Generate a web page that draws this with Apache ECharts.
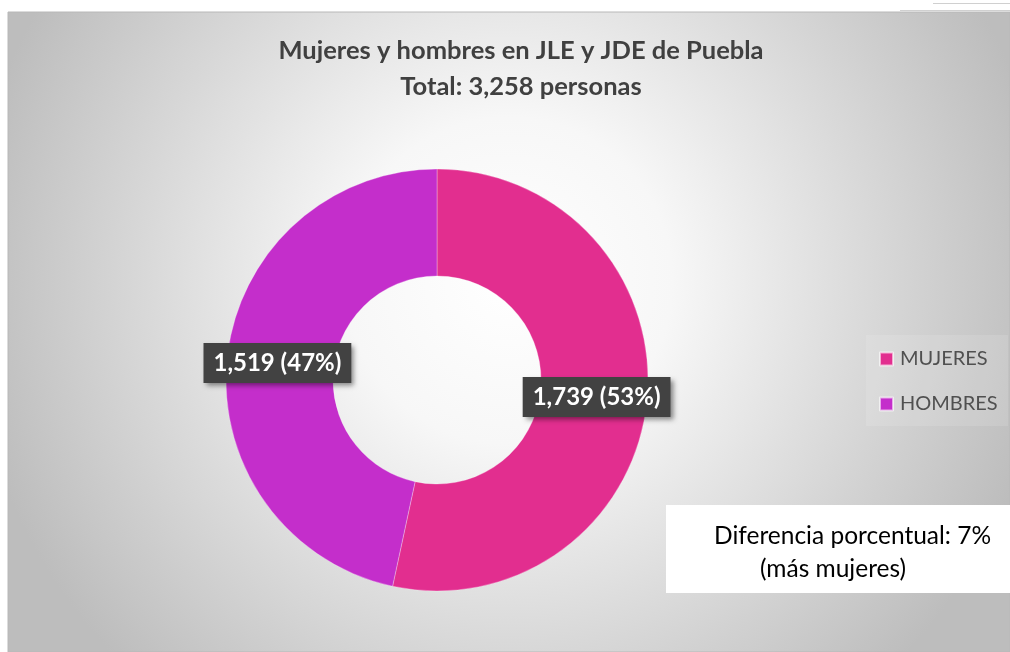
<!DOCTYPE html>
<html>
<head>
<meta charset="utf-8">
<script src="https://cdn.jsdelivr.net/npm/echarts@6/dist/echarts.min.js"></script>
<style>
html,body{margin:0;padding:0;background:#fff;}
#main{width:1010px;height:652px;}
</style>
</head>
<body>
<div id="main"></div>
<script>
var categories = ['MUJERES', 'HOMBRES'];
var values = [1739, 1519];
var colors = ['#E22E8F', '#C42ECB'];
var titleText = 'Mujeres y hombres en JLE y JDE de Puebla';
var subtitleText = 'Total: 3,258 personas';
var noteLines = ['Diferencia porcentual: 7%', '(más mujeres)'];

var FONT = 'Lato, "Open Sans", sans-serif';
var chart = echarts.init(document.getElementById('main'));

var data = categories.map(function (c, i) {
  return { name: c, value: values[i], itemStyle: { color: colors[i] } };
});

chart.setOption({
  backgroundColor: '#ffffff',
  animation: false,
  title: {
    text: titleText + '\n' + subtitleText,
    left: 516,
    top: 28,
    textAlign: 'center',
    textStyle: {
      fontFamily: FONT,
      fontSize: 25.5,
      fontWeight: 'bold',
      color: '#404040',
      lineHeight: 36
    }
  },
  legend: {
    orient: 'vertical',
    left: 874,
    top: 344,
    icon: 'rect',
    itemWidth: 13,
    itemHeight: 13,
    itemGap: 25,
    data: categories,
    textStyle: { fontFamily: FONT, fontSize: 20, color: '#505050', padding: [0, 0, 0, 2] }
  },
  graphic: [
    {
      type: 'rect', z: -10, silent: true,
      shape: { x: 8, y: 12, width: 1002, height: 640 },
      style: {
        fill: {
          type: 'radial', x: 0.5, y: 0.42, r: 0.85,
          colorStops: [
            { offset: 0, color: '#ffffff' },
            { offset: 0.3, color: '#f7f7f7' },
            { offset: 1, color: '#bdbdbd' }
          ]
        },
        stroke: '#b8b8b8', lineWidth: 1
      }
    },
    { type: 'line', z: -9, silent: true, shape: { x1: 933, y1: 3.5, x2: 1010, y2: 3.5 }, style: { stroke: '#d0d0d0', lineWidth: 1 } },
    { type: 'line', z: -9, silent: true, shape: { x1: 900, y1: 10.5, x2: 1010, y2: 10.5 }, style: { stroke: '#d0d0d0', lineWidth: 1 } },
    {
      type: 'rect', z: -5, silent: true,
      shape: { x: 866, y: 335, width: 142, height: 91 },
      style: { fill: 'rgba(255,255,255,0.12)' }
    },
    {
      type: 'rect', z: 5, silent: true,
      shape: { x: 666, y: 505, width: 344, height: 88 },
      style: { fill: '#ffffff' }
    },
    {
      type: 'text', z: 6, silent: true,
      left: 714, top: 524,
      style: { text: noteLines[0], fontFamily: FONT, fontSize: 24.5, fill: '#000000' }
    },
    {
      type: 'text', z: 6, silent: true,
      left: 760, top: 557,
      style: { text: noteLines[1], fontFamily: FONT, fontSize: 24.5, fill: '#000000' }
    }
  ],
  series: [{
    type: 'pie',
    center: [437, 380],
    radius: [104, 211],
    startAngle: 90,
    clockwise: true,
    avoidLabelOverlap: false,
    data: data,
    itemStyle: { borderColor: 'rgba(255,255,255,0.6)', borderWidth: 0.5 },
    label: {
      show: true,
      position: 'inside',
      formatter: function (p) {
        return p.value.toLocaleString('en-US') + ' (' + Math.round(p.percent) + '%)';
      },
      fontFamily: FONT,
      fontSize: 24,
      fontWeight: 'bold',
      lineHeight: 24,
      color: '#ffffff',
      backgroundColor: '#424242',
      padding: [8, 10, 8, 10],
      shadowColor: 'rgba(0,0,0,0.45)',
      shadowBlur: 5,
      shadowOffsetX: 3,
      shadowOffsetY: 3
    },
    labelLine: { show: false },
    emphasis: { disabled: true }
  }]
});
</script>
</body>
</html>
